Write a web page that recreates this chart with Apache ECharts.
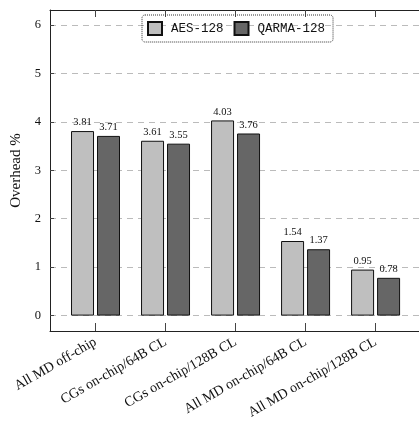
<!DOCTYPE html>
<html><head><meta charset="utf-8">
<script src="https://cdn.jsdelivr.net/npm/echarts@6/dist/echarts.min.js"></script>
<style>html,body{margin:0;padding:0;background:#fff}#c{width:419px;height:432px}</style>
</head><body><div id="c"></div>
<script>
var categories = ['All MD off-chip','CGs on-chip/64B CL','CGs on-chip/128B CL','All MD on-chip/64B CL','All MD on-chip/128B CL'];
var aes = [3.81, 3.61, 4.03, 1.54, 0.95];
var qarma = [3.71, 3.55, 3.76, 1.37, 0.78];
var yTicks = [0,1,2,3,4,5,6];
var seriesNames = ['AES-128','QARMA-128'];

var catIdx = categories.map(function(_, i){ return i; });
var serif = 'Liberation Serif';
var chart = echarts.init(document.getElementById('c'));
function toData(arr){ return arr.map(function(v,i){ return [i, v]; }); }
chart.setOption({
  animation:false,
  backgroundColor:'#fff',
  grid:{left:50, right:0, top:10, bottom:101, containLabel:false},
  legend:{
    top:15, left:142, width:187, height:18,
    icon:'rect',
    itemWidth:14, itemHeight:13, itemGap:10,
    padding:[6,8,6,5],
    borderColor:'#333', borderWidth:1, borderType:'dotted', borderRadius:3,
    textStyle:{fontFamily:'Liberation Mono', fontSize:12.5, color:'#111', padding:[0,0,0,4]},
    data:seriesNames
  },
  xAxis:[{
    type:'value', min:-0.65, max:4.62, position:'bottom',
    axisLine:{show:true, onZero:false, lineStyle:{color:'#222', width:1}},
    axisTick:{show:true, inside:true, length:8, customValues:catIdx, lineStyle:{color:'#444'}},
    axisLabel:{customValues:catIdx, rotate:30, margin:10, fontFamily:serif, fontSize:14, color:'#111',
      formatter:function(v){ return categories[Math.round(v)]; }},
    splitLine:{show:false}
  },{
    type:'value', min:-0.65, max:4.62, position:'top',
    axisLine:{show:true, onZero:false, lineStyle:{color:'#222', width:1}},
    axisTick:{show:true, inside:true, length:7, customValues:catIdx, lineStyle:{color:'#444'}},
    axisLabel:{show:false},
    splitLine:{show:false}
  }],
  yAxis:{
    type:'value', min:-0.318, max:6.31,
    name:'Overhead %', nameLocation:'middle', nameGap:24,
    nameTextStyle:{fontFamily:serif, fontSize:15, color:'#111'},
    axisLine:{show:true, onZero:false, lineStyle:{color:'#222', width:1}},
    axisTick:{show:true, inside:true, length:4, customValues:yTicks, lineStyle:{color:'#444'}},
    axisLabel:{customValues:yTicks, margin:9, fontFamily:serif, fontSize:12.5, color:'#111'},
    splitLine:{show:true, lineStyle:{color:'#bbb', type:[6,5], width:1}}
  },
  series:[{
    name:seriesNames[0], type:'bar', data:toData(aes), barWidth:23, barGap:'13%',
    itemStyle:{color:'#bfbfbf', borderColor:'#111', borderWidth:1},
    label:{show:true, position:'top', distance:3, fontFamily:serif, fontSize:10.5, color:'#111',
      formatter:function(p){ return p.value[1].toFixed(2); }}
  },{
    name:seriesNames[1], type:'bar', data:toData(qarma), barWidth:23, barGap:'13%',
    itemStyle:{color:'#666666', borderColor:'#111', borderWidth:1},
    label:{show:true, position:'top', distance:3, fontFamily:serif, fontSize:10.5, color:'#111',
      formatter:function(p){ return p.value[1].toFixed(2); }}
  }]
});
</script></body></html>
